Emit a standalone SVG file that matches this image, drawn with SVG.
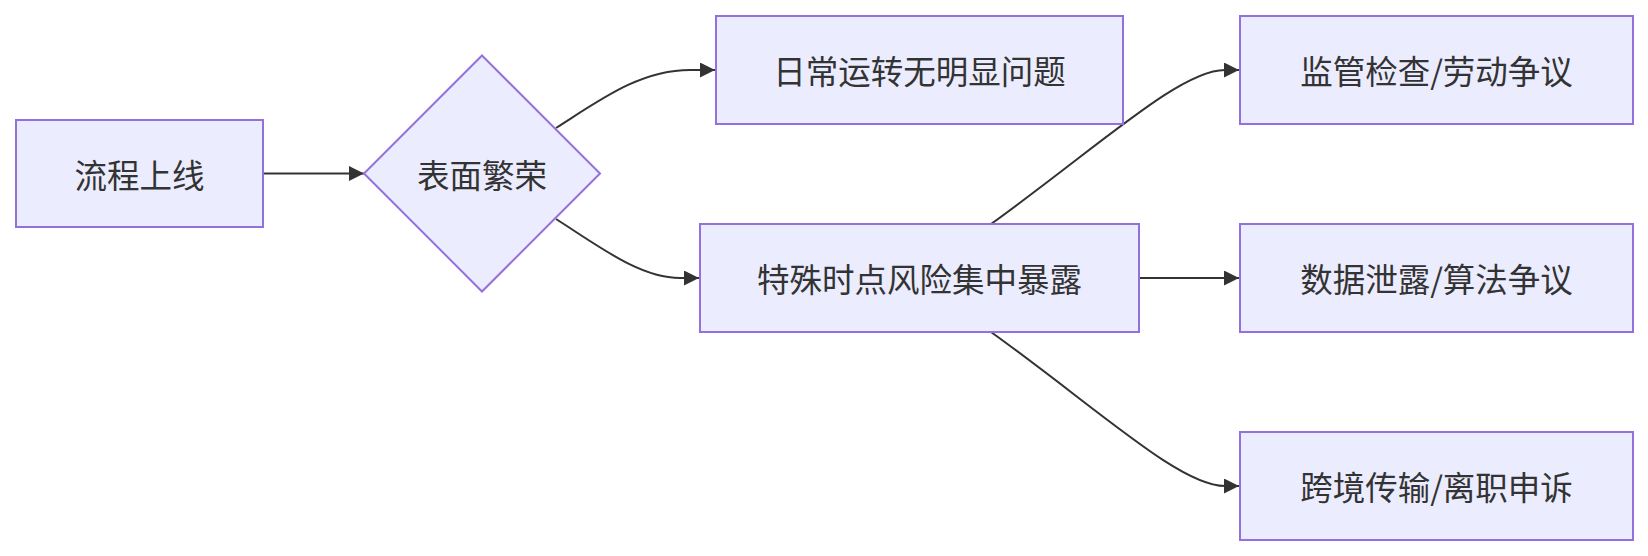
<svg xmlns="http://www.w3.org/2000/svg" width="1648" height="556" viewBox="0 0 1648 556">
<style>
.node rect, .node polygon { fill: #ECECFF; stroke: #9370DB; stroke-width: 2; }
.node text { font-family: "Noto Sans CJK SC", "Liberation Sans", sans-serif; font-size: 32.5px; fill: #333333; text-anchor: middle; dominant-baseline: central; }
.edge { fill: none; stroke: #333333; stroke-width: 2; marker-end: url(#arrow); }
</style>
<defs>
<marker id="arrow" viewBox="0 0 10 10" refX="10" refY="5" markerUnits="userSpaceOnUse" markerWidth="16" markerHeight="15" orient="auto">
<path d="M0,0 L10,5 L0,10 z" fill="#333333"/>
</marker>
</defs>
<rect width="1648" height="556" fill="#ffffff"/>
<g id="connectors">
<path class="edge" d="M263,173.5 L364,173.5"/>
<path class="edge" d="M556,128 C600,100 640,70 690,70 L715,70"/>
<path class="edge" d="M556,219 C600,247 640,278 680,278 L699,278"/>
<path class="edge" d="M991,224 C1100,145.5 1180,70 1225,70 L1239,70"/>
<path class="edge" d="M1139,278 L1239,278"/>
<path class="edge" d="M991,332 C1100,410.5 1180,486 1225,486 L1239,486"/>
</g>
<g id="n_launch" class="node">
<rect x="16" y="120" width="247" height="107"/>
<text x="139.5" y="173">流程上线</text>
</g>
<g id="n_prosper" class="node">
<polygon points="482,55.5 600,173.5 482,291.5 364,173.5"/>
<text x="482" y="173">表面繁荣</text>
</g>
<g id="n_daily" class="node">
<rect x="716" y="16" width="407" height="108"/>
<text x="919.5" y="69.5">日常运转无明显问题</text>
</g>
<g id="n_risk" class="node">
<rect x="700" y="224" width="439" height="108"/>
<text x="919.5" y="277.5">特殊时点风险集中暴露</text>
</g>
<g id="n_audit" class="node">
<rect x="1240" y="16" width="393" height="108"/>
<text x="1436.5" y="69.5">监管检查/劳动争议</text>
</g>
<g id="n_data" class="node">
<rect x="1240" y="224" width="393" height="108"/>
<text x="1436.5" y="277.5">数据泄露/算法争议</text>
</g>
<g id="n_cross" class="node">
<rect x="1240" y="432" width="393" height="108"/>
<text x="1436.5" y="485.5">跨境传输/离职申诉</text>
</g>
</svg>
